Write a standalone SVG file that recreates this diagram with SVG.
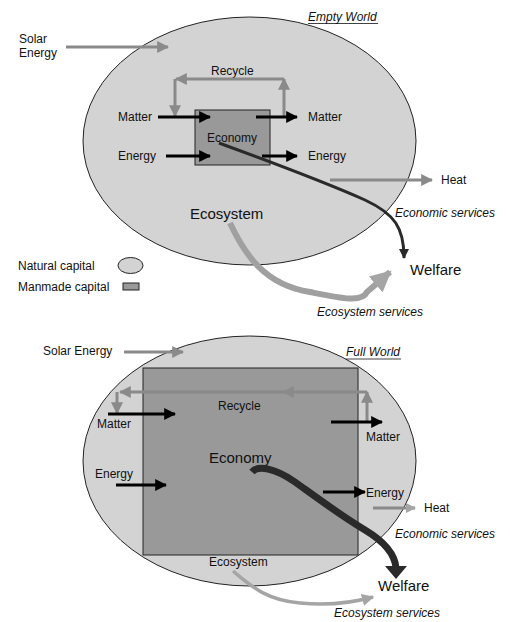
<svg xmlns="http://www.w3.org/2000/svg" width="510" height="622" viewBox="0 0 510 622">
<defs>
<style>
text{font-family:"Liberation Sans",Arial,sans-serif;fill:#111;font-size:12px;}
.big{font-size:15px;}
.it{font-style:italic;}
.nat{fill:#d3d3d3;stroke:#222;stroke-width:1;}
.man{fill:#999;stroke:#222;stroke-width:1;}
.blk{stroke:#000;stroke-width:3;fill:none;}
.gry{stroke:#8a8a8a;stroke-width:3;fill:none;}
</style>
<marker id="ab" viewBox="0 0 10 10" refX="9" refY="5" markerWidth="4" markerHeight="4" orient="auto" markerUnits="strokeWidth"><path d="M0,0 L10,5 L0,10 z" fill="#000"/></marker>
<marker id="ag" viewBox="0 0 10 10" refX="9" refY="5" markerWidth="4" markerHeight="4" orient="auto" markerUnits="strokeWidth"><path d="M0,0 L10,5 L0,10 z" fill="#8a8a8a"/></marker>
<marker id="agl" viewBox="0 0 10 10" refX="9" refY="5" markerWidth="3.5" markerHeight="3.5" orient="auto" markerUnits="strokeWidth"><path d="M0,0 L10,5 L0,10 z" fill="#a5a5a5"/></marker>
<marker id="abd" viewBox="0 0 10 10" refX="9" refY="5" markerWidth="3.5" markerHeight="3.5" orient="auto" markerUnits="strokeWidth"><path d="M0,0 L10,5 L0,10 z" fill="#2a2a2a"/></marker>
</defs>

<!-- Empty World -->
<g id="top-ecosystem">
<ellipse class="nat" cx="249.5" cy="141" rx="166.5" ry="124"/>
<text class="it" x="308" y="21">Empty World</text>
<line x1="308" y1="23.5" x2="378" y2="23.5" stroke="#111" stroke-width="0.8"/>
<text class="big" x="190" y="219">Ecosystem</text>
</g>
<g id="top-economy">
<rect class="man" x="195" y="110" width="75" height="55"/>
<text x="207" y="142">Economy</text>
</g>
<g id="top-labels">
<text x="19" y="43">Solar</text>
<text x="19" y="57">Energy</text>
<text x="211" y="75">Recycle</text>
<text x="118" y="121">Matter</text>
<text x="308" y="121">Matter</text>
<text x="118" y="160">Energy</text>
<text x="308" y="160">Energy</text>
<text x="441" y="184">Heat</text>
<text class="it" x="395" y="217">Economic services</text>
<text class="big" x="410" y="275">Welfare</text>
<text class="it" x="317" y="316">Ecosystem services</text>
</g>
<g id="legend">
<text x="18" y="270">Natural capital</text>
<ellipse class="nat" cx="130.5" cy="265.5" rx="12.5" ry="8" stroke-width="0.8"/>
<text x="18" y="291">Manmade capital</text>
<rect class="man" x="123" y="283" width="16" height="7" stroke-width="0.8"/>
</g>

<g id="top-connectors">
<line class="gry" x1="66" y1="47" x2="168" y2="47" marker-end="url(#ag)"/>
<polyline class="gry" points="284,117 284,79" marker-end="url(#ag)"/>
<polyline class="gry" points="284,79 176,79" marker-end="url(#ag)"/>
<polyline class="gry" points="175,79 175,116" marker-end="url(#ag)"/>
<line class="blk" x1="158" y1="117" x2="210" y2="117" marker-end="url(#ab)"/>
<line class="blk" x1="256" y1="117" x2="297" y2="117" marker-end="url(#ab)"/>
<line class="blk" x1="166" y1="156" x2="210" y2="156" marker-end="url(#ab)"/>
<line class="blk" x1="262" y1="156" x2="297" y2="156" marker-end="url(#ab)"/>
<line class="gry" x1="330" y1="180" x2="432" y2="180" marker-end="url(#ag)"/>
<path d="M219,143 C260,158 320,180 365,200 C395,214 404,228 404,258" stroke="#2a2a2a" stroke-width="3" fill="none" marker-end="url(#abd)"/>
<path d="M230,223 C245,255 265,285 310,292 C340,298 362,303 367,292 L390,272" stroke="#a0a0a0" stroke-width="6" fill="none" marker-end="url(#agl)" stroke-linejoin="round"/>
</g>

<!-- Full World -->
<g id="bottom-ecosystem">
<ellipse class="nat" cx="249.5" cy="461" rx="166.5" ry="125"/>
<text class="it" x="346" y="356">Full World</text>
<line x1="346" y1="359" x2="401" y2="359" stroke="#111" stroke-width="0.8"/>
<text x="209" y="566">Ecosystem</text>
</g>
<g id="bottom-economy">
<rect class="man" x="143" y="368" width="215" height="187"/>
<text class="big" x="209" y="463">Economy</text>
</g>
<g id="bottom-labels">
<text x="43" y="355">Solar Energy</text>
<text x="218" y="410">Recycle</text>
<text x="97" y="428">Matter</text>
<text x="366" y="441">Matter</text>
<text x="95" y="478">Energy</text>
<text x="366" y="497">Energy</text>
<text x="424" y="512">Heat</text>
<text class="it" x="395" y="538">Economic services</text>
<text class="big" x="378" y="591">Welfare</text>
<text class="it" x="334" y="617">Ecosystem services</text>
</g>

<g id="bottom-connectors">
<line class="gry" x1="124" y1="352" x2="183" y2="352" marker-end="url(#ag)"/>
<polyline class="gry" points="367,423 367,392" marker-end="url(#ag)"/>
<polyline class="gry" points="367,392 283,392" marker-end="url(#ag)"/>
<polyline class="gry" points="285,392 120,392" marker-end="url(#ag)"/>
<polyline class="gry" points="117,392 117,413" marker-end="url(#ag)"/>
<line class="blk" x1="108" y1="414" x2="175" y2="414" marker-end="url(#ab)"/>
<line class="blk" x1="331" y1="422" x2="382" y2="422" marker-end="url(#ab)"/>
<line class="blk" x1="116" y1="485" x2="166" y2="485" marker-end="url(#ab)"/>
<line class="blk" x1="323" y1="492" x2="365" y2="492" marker-end="url(#ab)"/>
<line class="gry" x1="373" y1="508" x2="415" y2="508" marker-end="url(#agl)" stroke="#a5a5a5"/>
<path d="M252,472 C258,465 275,468 295,482 C320,500 340,515 365,530 C385,542 395,555 396,568" stroke="#2a2a2a" stroke-width="7" fill="none"/>
<path d="M385,566 L407,566 L396,579 z" fill="#2a2a2a"/>
<path d="M233,571 C250,585 265,600 300,603 C330,606 355,602 373,597" stroke="#a5a5a5" stroke-width="3.5" fill="none" marker-end="url(#agl)"/>
</g>
</svg>
